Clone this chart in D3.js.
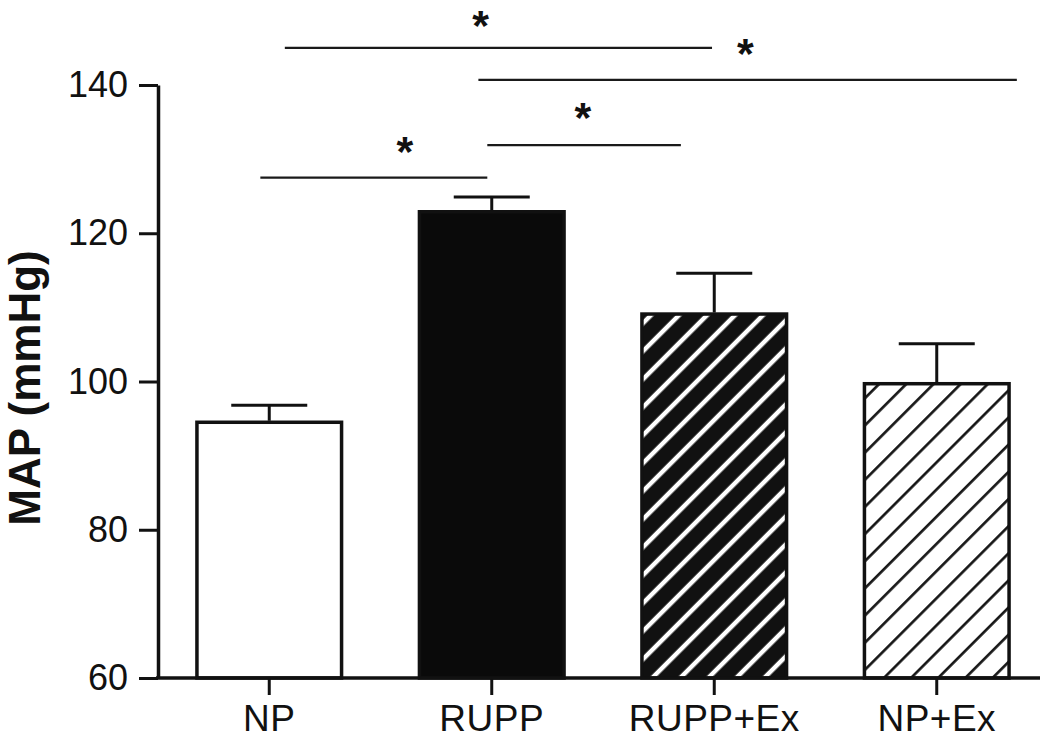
<!DOCTYPE html>
<html>
  <head>
    <meta charset="utf-8">
    <title>MAP</title>
    <script type="text/javascript" src="https://d3js.org/d3.v7.min.js"></script>
    <style>
      body { margin: 0; background: #fff; }
      text { font-family: "Liberation Sans", Arial, Helvetica, sans-serif; fill: #111; }
    </style>
  </head>
  <body>
    <script type="text/javascript">

      // groups and their values (mmHg)
      var groups = ["NP", "RUPP", "RUPP+Ex", "NP+Ex"];
      var means = [94.5, 122.9, 109.1, 99.7];
      var errors = [2.3, 2.0, 5.5, 5.4];
      var yTicks = [60, 80, 100, 120, 140];

      // significance bars, x given as group position (0 = NP ... 3 = NP+Ex)
      var sigFrom = [0.07, 0.94, 0.98, -0.04];
      var sigTo = [1.99, 3.36, 1.85, 0.98];
      var sigLevel = [145.0, 140.7, 131.9, 127.5];
      var starPos = [0.95, 2.14, 1.41, 0.61];
      var starLevel = [149.2, 145.5, 136.8, 132.3];

      var width = 1050;
      var height = 739;

      var svg = d3.select("body")
        .append("svg")
        .attr("width", width)
        .attr("height", height);

      var defs = svg.append("defs");

      // black with white stripes
      var p1 = defs.append("pattern")
        .attr("id", "hatchDark")
        .attr("patternUnits", "userSpaceOnUse")
        .attr("width", 19.8)
        .attr("height", 19.8)
        .attr("patternTransform", "rotate(45)");
      p1.append("rect").attr("width", 19.8).attr("height", 19.8).attr("fill", "#111");
      p1.append("line")
        .attr("x1", 10).attr("x2", 10).attr("y1", 0).attr("y2", 19.8)
        .attr("stroke", "#fff").attr("stroke-width", 4.5);

      // white with black stripes
      var p2 = defs.append("pattern")
        .attr("id", "hatchLight")
        .attr("patternUnits", "userSpaceOnUse")
        .attr("width", 19.2)
        .attr("height", 19.2)
        .attr("patternTransform", "rotate(45)");
      p2.append("rect").attr("width", 19.2).attr("height", 19.2).attr("fill", "#fff");
      p2.append("line")
        .attr("x1", 10).attr("x2", 10).attr("y1", 0).attr("y2", 19.2)
        .attr("stroke", "#111").attr("stroke-width", 2.6);

      var fills = ["#fff", "#0a0a0a", "url(#hatchDark)", "url(#hatchLight)"];

      var xScale = d3.scaleBand()
        .domain(groups)
        .range([158, 1048])
        .paddingInner(0.35)
        .paddingOuter(0.175);

      var yScale = d3.scaleLinear()
        .domain([60, 140])
        .range([678, 85]);

      var half = xScale.bandwidth() / 2;
      var xPos = d3.scaleLinear()
        .domain([0, 3])
        .range([xScale(groups[0]) + half, xScale(groups[3]) + half]);

      // bars
      svg.selectAll("rect.bar")
        .data(means)
        .enter()
        .append("rect")
        .attr("class", "bar")
        .attr("x", function(d, i) { return xScale(groups[i]); })
        .attr("y", function(d) { return yScale(d); })
        .attr("width", xScale.bandwidth())
        .attr("height", function(d) { return yScale(60) - yScale(d); })
        .attr("fill", function(d, i) { return fills[i]; })
        .attr("stroke", "#111")
        .attr("stroke-width", 3.5);

      // error bars (upper only)
      var eb = svg.selectAll("g.err")
        .data(means)
        .enter()
        .append("g")
        .attr("class", "err")
        .attr("stroke", "#111")
        .attr("stroke-width", 3);
      eb.append("line")
        .attr("x1", function(d, i) { return xScale(groups[i]) + half; })
        .attr("x2", function(d, i) { return xScale(groups[i]) + half; })
        .attr("y1", function(d) { return yScale(d) - 1.5; })
        .attr("y2", function(d, i) { return yScale(d + errors[i]); });
      eb.append("line")
        .attr("x1", function(d, i) { return xScale(groups[i]) + half - 38; })
        .attr("x2", function(d, i) { return xScale(groups[i]) + half + 38; })
        .attr("y1", function(d, i) { return yScale(d + errors[i]); })
        .attr("y2", function(d, i) { return yScale(d + errors[i]); });

      // axes
      var y_axis = d3.axisLeft(yScale)
        .tickValues(yTicks)
        .tickSize(19)
        .tickSizeOuter(0)
        .tickPadding(11);

      var gy = svg.append("g")
        .attr("transform", "translate(158,0)")
        .call(y_axis);
      gy.selectAll("text").style("font-size", "36px").attr("fill", "#111");
      gy.selectAll("line").attr("stroke", "#111").attr("stroke-width", 3);
      gy.select(".domain").attr("stroke", "#111").attr("stroke-width", 3.5);

      var x_axis = d3.axisBottom(xScale)
        .tickSize(17)
        .tickSizeOuter(0)
        .tickPadding(10);

      var gx = svg.append("g")
        .attr("transform", "translate(0,678)")
        .call(x_axis);
      gx.select(".domain").remove();
      gx.append("line")
        .attr("x1", 156).attr("x2", 1040)
        .attr("stroke", "#111").attr("stroke-width", 3.5);
      gx.selectAll("text")
        .style("font-size", "37px")
        .style("letter-spacing", "0.5px")
        .attr("fill", "#111");
      gx.selectAll(".tick line").attr("stroke", "#111").attr("stroke-width", 3);

      // y title
      svg.append("text")
        .attr("transform", "translate(40,388) rotate(-90)")
        .attr("text-anchor", "middle")
        .style("font-size", "44px")
        .style("font-weight", "bold")
        .text("MAP (mmHg)");

      // significance lines and stars
      svg.selectAll("line.sig")
        .data(sigLevel)
        .enter()
        .append("line")
        .attr("class", "sig")
        .attr("x1", function(d, i) { return xPos(sigFrom[i]); })
        .attr("x2", function(d, i) { return xPos(sigTo[i]); })
        .attr("y1", function(d) { return yScale(d); })
        .attr("y2", function(d) { return yScale(d); })
        .attr("stroke", "#1a1a1a")
        .attr("stroke-width", 2.2);

      svg.selectAll("text.star")
        .data(starLevel)
        .enter()
        .append("text")
        .attr("class", "star")
        .attr("x", function(d, i) { return xPos(starPos[i]); })
        .attr("y", function(d) { return yScale(d) + 23.5; })
        .attr("text-anchor", "middle")
        .style("font-size", "43px")
        .style("font-weight", "bold")
        .text("*");

    </script>
  </body>
</html>
